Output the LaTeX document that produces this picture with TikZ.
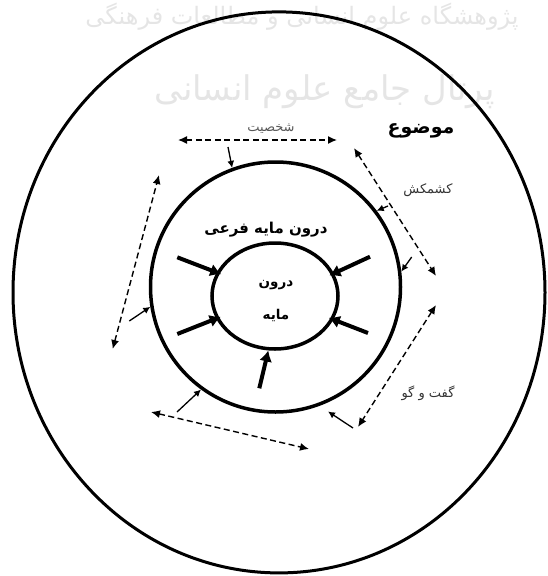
\documentclass[tikz,border=0pt]{standalone}
\usepackage{fontspec}
\usetikzlibrary{shapes.geometric,arrows.meta}
\TeXXeTstate=1
\newfontfamily\fa[Script=Arabic]{DejaVu Sans}
\begin{document}
\begin{tikzpicture}[x=1pt,y=-1pt,
  ring/.style={draw, ellipse, line width=3.5pt, inner sep=0pt},
  dasharrow/.style={line width=1.4pt, dash pattern=on 6pt off 3.5pt,
     {Latex[length=9pt,width=8pt]}-{Latex[length=9pt,width=8pt]}},
  thinarrow/.style={line width=1.3pt, -{Latex[length=7pt,width=7pt]}},
  thickarrow/.style={line width=4pt, -{Latex[length=11pt,width=13pt]}},
  lbl/.style={inner sep=0pt},
  wm/.style={inner sep=0pt, text=black!10}
]
\useasboundingbox (0,0) rectangle (547,576);
\node[wm, font=\fa\fontsize{24}{24}\selectfont] (wm1) at (302,17) {\beginR پژوهشگاه علوم انسانی و مطالعات فرهنگی\endR};
\node[wm, font=\fa\fontsize{34}{34}\selectfont] (wm2) at (325,92) {\beginR پرتال جامع علوم انسانی\endR};

% rings
\node[ring, line width=3pt, minimum width=532pt, minimum height=561pt] (outer) at (279,292.4) {};
\node[ring, minimum width=250pt, minimum height=250pt] (mid) at (275.5,287) {};
\node[ring, minimum width=126pt, minimum height=106pt] (inner) at (275,296) {};

% labels
\node[lbl, font=\fa\bfseries\fontsize{19}{22}\selectfont] (mozu) at (421,131) {\beginR موضوع\endR};
\node[lbl, font=\fa\fontsize{13}{15}\selectfont, text=black!65] (shakh) at (271,129) {\beginR شخصیت\endR};
\node[lbl, font=\fa\fontsize{13}{15}\selectfont, text=black!80] (kesh) at (428,190) {\beginR کشمکش\endR};
\node[lbl, font=\fa\bfseries\fontsize{15}{17}\selectfont] (farei) at (266,230) {\beginR درون مایه فرعی\endR};
\node[lbl, font=\fa\bfseries\fontsize{13.5}{15}\selectfont] (darun) at (276,285) {\beginR درون\endR};
\node[lbl, font=\fa\bfseries\fontsize{13.5}{15}\selectfont] (maye) at (276,315) {\beginR مایه\endR};
\node[lbl, font=\fa\fontsize{13}{15}\selectfont, text=black!80] (goft) at (428,393) {\beginR گفت و گو\endR};

% dashed double arrows
\coordinate (d1a) at (178,140);   \coordinate (d1b) at (337,140);
\coordinate (d2a) at (354,148);   \coordinate (d2b) at (436,276);
\coordinate (d3a) at (436,305);   \coordinate (d3b) at (358,427);
\coordinate (d4a) at (151,412);   \coordinate (d4b) at (309,449);
\coordinate (d5a) at (112.7,349); \coordinate (d5b) at (159,175);
\draw[dasharrow] (d1a) -- (d1b);
\draw[dasharrow] (d2a) -- (d2b);
\draw[dasharrow] (d3a) -- (d3b);
\draw[dasharrow] (d4a) -- (d4b);
\draw[dasharrow] (d5a) -- (d5b);

% thin arrows towards the middle ring
\coordinate (ta) at (228,147);
\coordinate (tb) at (388,206);
\coordinate (tc) at (411.7,257);
\coordinate (td) at (353,428);
\coordinate (tdend) at (328,411.5);
\coordinate (te) at (177,412);
\coordinate (tf) at (129.3,321);
\draw[thinarrow] (ta) -- (mid.110);
\draw[thinarrow] (tb) -- (mid.37);
\draw[thinarrow] (tc) -- (mid.7);
\draw[thinarrow] (td) -- (tdend);
\draw[thinarrow] (te) -- (mid.234);
\draw[thinarrow] (tf) -- (mid.189);

% thick arrows towards the inner ring
\coordinate (k1) at (177.3,257.3);
\coordinate (k2) at (177.3,334);
\coordinate (k3) at (370,256.7);
\coordinate (k4) at (368,333);
\coordinate (k5) at (259.3,388.3);
\draw[thickarrow, shorten >=-5pt] (k1) -- (inner.158.5);
\draw[thickarrow, shorten >=-5pt] (k2) -- (inner.201.8);
\draw[thickarrow, shorten >=-5pt] (k3) -- (inner.21.8);
\draw[thickarrow, shorten >=-5pt] (k4) -- (inner.338);
\draw[thickarrow] (k5) -- (inner.263);
\end{tikzpicture}
\end{document}
